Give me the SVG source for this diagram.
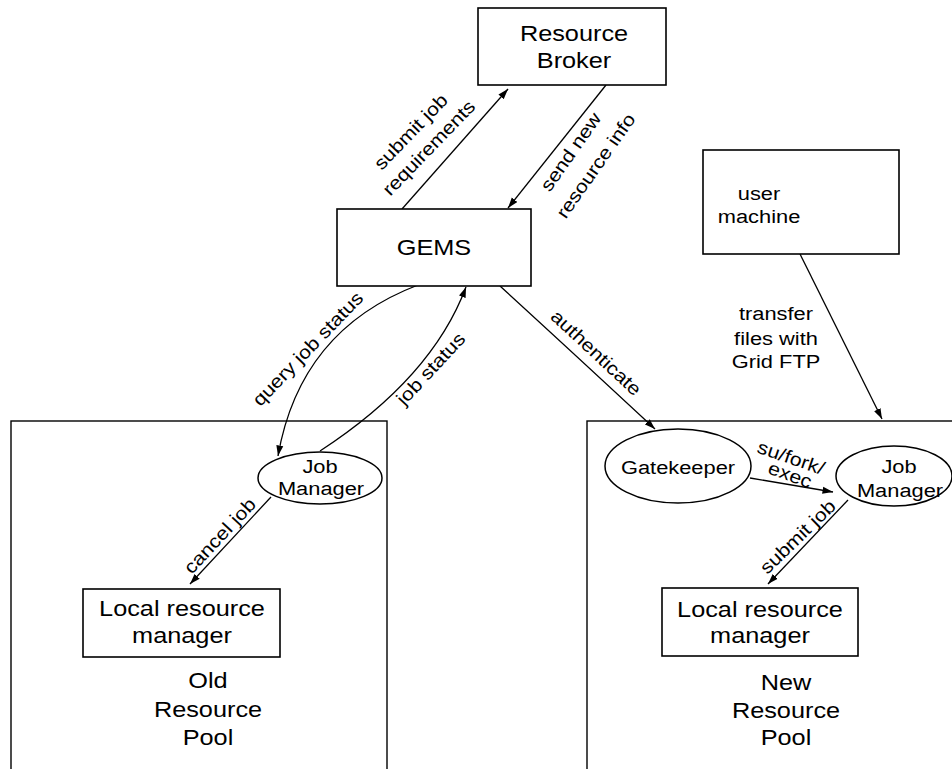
<svg xmlns="http://www.w3.org/2000/svg" width="952" height="769" viewBox="0 0 952 769">
  <style>
    .box { fill: #fff; stroke: #000; stroke-width: 1.6; }
    .pool { fill: none; stroke: #000; stroke-width: 1.4; }
    .oval { fill: #fff; stroke: #000; stroke-width: 1.5; }
    .edge { fill: none; stroke: #000; stroke-width: 1.3; marker-end: url(#arrow); }
    text { font-family: "Liberation Sans", Arial, sans-serif; fill: #000; text-anchor: middle; }
    .big { font-size: 22px; }
    .mid { font-size: 19px; }
    .lbl { font-size: 18.5px; }
  </style>
  <defs>
    <marker id="arrow" markerUnits="userSpaceOnUse" markerWidth="11" markerHeight="8" refX="10.5" refY="4" orient="auto">
      <path d="M0,0.5 L10.5,4 L0,7.5 z" fill="#000"/>
    </marker>
  </defs>
  <rect width="952" height="769" fill="#fff"/>

  <!-- resource pools -->
  <g id="old-pool">
    <rect class="pool" x="11" y="421" width="376" height="360"/>
    <text class="big" transform="translate(208,688) scale(1.15,1)">Old</text>
    <text class="big" transform="translate(208,717) scale(1.15,1)">Resource</text>
    <text class="big" transform="translate(208,745) scale(1.15,1)">Pool</text>
  </g>
  <g id="new-pool">
    <rect class="pool" x="587" y="421" width="380" height="360"/>
    <text class="big" transform="translate(786,690) scale(1.15,1)">New</text>
    <text class="big" transform="translate(786,718) scale(1.15,1)">Resource</text>
    <text class="big" transform="translate(786,745) scale(1.15,1)">Pool</text>
  </g>

  <!-- connectors -->
  <g id="connectors">
    <path class="edge" d="M402,209 L508,89"/>
    <path class="edge" d="M606,85 L508,208"/>
    <path class="edge" d="M418,285 Q300,330 278,456"/>
    <path class="edge" d="M320,451 Q432,378 466,287"/>
    <path class="edge" d="M500,286 Q570,350 655,429"/>
    <path class="edge" d="M800,254 L882,419"/>
    <path class="edge" d="M271,497 L190,584"/>
    <path class="edge" d="M750,478 L833,492"/>
    <path class="edge" d="M848,500 L768,584"/>

    <text class="lbl" transform="translate(411,132) rotate(-46) translate(0,6) scale(1.15,1)">submit job</text>
    <text class="lbl" transform="translate(429,148) rotate(-46) translate(0,6) scale(1.15,1)">requirements</text>
    <text class="lbl" transform="translate(571,152) rotate(-55) translate(0,6) scale(1.15,1)">send new</text>
    <text class="lbl" transform="translate(596,166) rotate(-55) translate(0,6) scale(1.15,1)">resource info</text>
    <text class="lbl" transform="translate(308,349) rotate(-46) translate(0,6) scale(1.15,1)">query job status</text>
    <text class="lbl" transform="translate(431,369) rotate(-47) translate(0,6) scale(1.15,1)">job status</text>
    <text class="lbl" transform="translate(596,353) rotate(43) translate(0,6) scale(1.15,1)">authenticate</text>
    <text class="lbl" transform="translate(220,536) rotate(-47) translate(0,6) scale(1.15,1)">cancel job</text>
    <text class="lbl" transform="translate(791,458) rotate(19) translate(0,6) scale(1.15,1)">su/fork/</text>
    <text class="lbl" transform="translate(790,475) rotate(20) translate(0,6) scale(1.15,1)">exec</text>
    <text class="lbl" transform="translate(798,537) rotate(-44) translate(0,6) scale(1.15,1)">submit job</text>
    <text class="mid" transform="translate(776,320) scale(1.15,1)">transfer</text>
    <text class="mid" transform="translate(776,345) scale(1.15,1)">files with</text>
    <text class="mid" transform="translate(776,368) scale(1.15,1)">Grid FTP</text>
  </g>

  <!-- nodes -->
  <g id="resource-broker">
    <rect class="box" x="478" y="8" width="188" height="77"/>
    <text class="big" transform="translate(574,41) scale(1.15,1)">Resource</text>
    <text class="big" transform="translate(574,68) scale(1.15,1)">Broker</text>
  </g>
  <g id="gems">
    <rect class="box" x="337" y="209" width="194" height="77"/>
    <text class="big" transform="translate(434,255) scale(1.15,1)">GEMS</text>
  </g>
  <g id="user-machine">
    <rect class="box" x="703" y="150" width="196" height="104"/>
    <text class="mid" transform="translate(759,200) scale(1.15,1)">user</text>
    <text class="mid" transform="translate(759,223) scale(1.15,1)">machine</text>
  </g>
  <g id="old-job-manager">
    <ellipse class="oval" cx="320" cy="478" rx="62" ry="26"/>
    <text class="mid" transform="translate(320,473) scale(1.15,1)">Job</text>
    <text class="mid" transform="translate(321,495) scale(1.15,1)">Manager</text>
  </g>
  <g id="old-local-manager">
    <rect class="box" x="83" y="589" width="197" height="68"/>
    <text class="big" transform="translate(182,616) scale(1.15,1)">Local resource</text>
    <text class="big" transform="translate(182,643) scale(1.15,1)">manager</text>
  </g>
  <g id="gatekeeper">
    <ellipse class="oval" cx="678" cy="466" rx="73" ry="37"/>
    <text class="mid" transform="translate(678,474) scale(1.15,1)">Gatekeeper</text>
  </g>
  <g id="new-job-manager">
    <ellipse class="oval" cx="894" cy="476" rx="58" ry="30"/>
    <text class="mid" transform="translate(899,473) scale(1.15,1)">Job</text>
    <text class="mid" transform="translate(900,497) scale(1.15,1)">Manager</text>
  </g>
  <g id="new-local-manager">
    <rect class="box" x="662" y="588" width="196" height="68"/>
    <text class="big" transform="translate(760,617) scale(1.15,1)">Local resource</text>
    <text class="big" transform="translate(760,643) scale(1.15,1)">manager</text>
  </g>
</svg>
